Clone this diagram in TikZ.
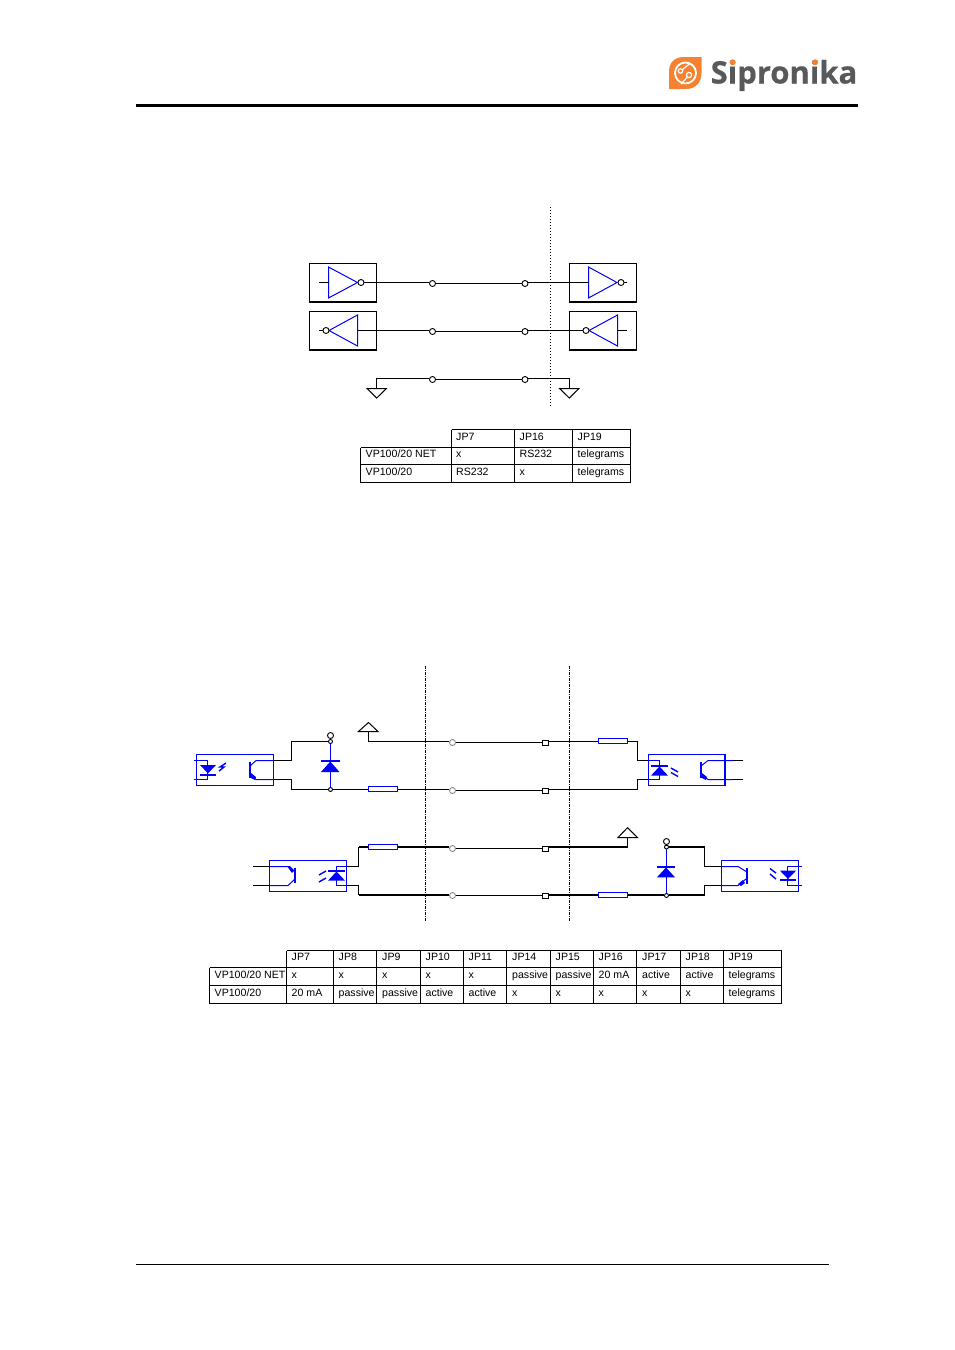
\documentclass[tikz,border=0pt]{standalone}
\usepackage{fontspec}
\setmainfont{Liberation Sans}
\newfontfamily\logofont[BoldFeatures={FakeBold=0.5}]{Open Sans}
\usepackage{tikz}
\definecolor{partblue}{HTML}{0000ff}
\definecolor{logoorange}{HTML}{f58232}
\definecolor{logogray}{HTML}{58595b}
\tikzset{
	wire/.style={line width=1pt},
	wirebold/.style={line width=2pt},
	part/.style={color=partblue,line width=1pt},
	bar/.style={color=partblue,line width=2pt},
	glint/.style={color=partblue,line width=1.4pt},
	bubble/.style={circle,draw,fill=white,inner sep=0pt,minimum size=6pt,line width=0.9pt},
	greybubble/.style={circle,draw=gray,fill=white,inner sep=0pt,minimum size=6pt,line width=0.8pt},
	pinbox/.style={rectangle,draw,fill=white,inner sep=0pt,minimum width=6pt,minimum height=5pt,line width=0.9pt},
	gatebox/.style={rectangle,draw,inner sep=0pt,minimum width=67pt,minimum height=38pt,line width=1pt},
	optobox/.style={rectangle,draw=partblue,inner sep=0pt,minimum width=77pt,minimum height=31pt,line width=1pt},
	resbox/.style={rectangle,draw=partblue,fill=white,inner sep=0pt,minimum width=29pt,minimum height=5pt,line width=1pt},
	tabline/.style={line width=0.9pt},
	celltext/.style={anchor=base west,inner sep=0pt,font=\fontsize{10.6pt}{12pt}\selectfont},
	cutline/.style={line width=1pt,dash pattern=on 3pt off 1pt on 1pt off 1pt},
}
\begin{document}
\begin{tikzpicture}[x=1pt,y=-1pt]
	\useasboundingbox (0,0) rectangle (954,1350);

	% header and footer
	\draw [line width=3pt] (136,105) -- (858,105);
	\draw [line width=1pt] (136,1264.5) -- (829,1264.5);
	\fill [logoorange] (669,89) -- (669,72) .. controls (669,62) and (675,57) .. (684,57) -- (701.5,57) -- (701.5,73) .. controls (701.5,83) and (695,89) .. (686,89) -- cycle;
	\draw [white,line width=1.8pt] (685.5,73) circle (10.5);
	\draw [white,line width=1.2pt] (680.5,71) circle (2.2);
	\draw [white,line width=1.2pt] (689,75) circle (2.6);
	\draw [white,line width=1.2pt] (690,63.5) -- (682.5,69.5) (687,77.5) -- (681,84);
	\node [anchor=base west,inner sep=0pt,text=logogray,font=\logofont\bfseries\fontsize{31pt}{32pt}\selectfont] (logo) at (710.5,83.5) {Sipronika};
	\fill [logoorange] (732.6,62.3) circle (3) (815.2,62.3) circle (3);

	% first diagram
	\draw [line width=1pt,dotted] (550.5,207) -- (550.5,406);
	\node [gatebox] (boxa) at (343,282.5) {};
	\node [gatebox] (boxb) at (343,330.5) {};
	\node [gatebox] (boxc) at (603,282.5) {};
	\node [gatebox] (boxd) at (603,330.5) {};
	\foreach \b in {boxa,boxb,boxc,boxd}
		\draw [line width=2pt] (\b.south west) -- (\b.south east);

	\draw [part] (328.5,267) -- (328.5,298) -- (357.5,282.5) -- cycle;
	\draw [part] (357.5,315) -- (357.5,346) -- (329,330.5) -- cycle;
	\draw [part] (588.5,267) -- (588.5,298) -- (617,282.5) -- cycle;
	\draw [part] (617.5,315) -- (617.5,346) -- (589,330.5) -- cycle;
	\draw [wire] (319,282.5) -- (328.5,282.5);
	\draw [wire] (319,330.5) -- (323,330.5);
	\draw [wire] (624,282.5) -- (627,282.5) (617.5,330.5) -- (627,330.5);

	\node [bubble] (gatea) at (361,282.5) {};
	\node [bubble] (gateb) at (326,330.5) {};
	\node [bubble] (gatec) at (621,282.5) {};
	\node [bubble] (gated) at (586,330.5) {};
	\coordinate (ina) at (588.5,282.5);
	\coordinate (outb) at (357.5,330.5);
	\node [bubble] (ja) at (432.5,283.5) {};
	\node [bubble] (jb) at (525,283.5) {};
	\node [bubble] (jc) at (432.5,331.5) {};
	\node [bubble] (jd) at (525,331.5) {};
	\node [bubble] (je) at (432.5,379.5) {};
	\node [bubble] (jf) at (525,379.5) {};
	\draw [wire] (gatea) -- (ja.west |- gatea) (ja) -- (jb) (jb.east |- gatea) -- (ina);
	\draw [wire] (outb) -- (jc.west |- outb) (jc) -- (jd) (jd.east |- outb) -- (gated);

	\coordinate (gnda) at (376.5,388.5);
	\coordinate (gndb) at (569.5,388.5);
	\coordinate (gndtop) at (376.5,378.5);
	\draw [wire] (gnda) -- (gndtop) -- (je.west |- gndtop) (je) -- (jf) (jf.east |- gndtop) -- (gndb |- gndtop) -- (gndb);
	\draw [wire] (367,388.5) -- (386.5,388.5) -- (376.7,398) -- cycle;
	\draw [wire] (559.5,388.5) -- (579,388.5) -- (569.3,398) -- cycle;

	% first table
	\draw [tabline] (451.5,429.5) -- (630.5,429.5);
	\draw [tabline] (360.5,447.5) -- (630.5,447.5) (360.5,464.5) -- (630.5,464.5) (360.5,482.5) -- (630.5,482.5);
	\draw [tabline] (360.5,447.5) -- (360.5,482.5);
	\foreach \x in {451.5,514.5,572.5,630.5}
		\draw [tabline] (\x,429.5) -- (\x,482.5);
	\foreach \x/\y/\t [count=\n] in {
		456/440.5/JP7,519.5/440.5/JP16,577.5/440.5/JP19,
		365.5/457.5/VP100\slash 20 NET,456/457.5/x,519.5/457.5/RS232,577.5/457.5/telegrams,
		365.5/475.5/VP100\slash 20,456/475.5/RS232,519.5/475.5/x,577.5/475.5/telegrams}
		\node [celltext] (taba\n) at (\x,\y) {\t};

	% second diagram
	\draw [cutline] (425.5,666) -- (425.5,922);
	\draw [cutline] (569.5,666) -- (569.5,922);

	% upper left optocoupler
	\node [optobox] (optoa) at (235,770) {};
	\draw [part] (194,760.5) -- (207.5,760.5) -- (207.5,779.5) -- (194,779.5);
	\fill [partblue] (200,765) -- (216,765) -- (208,773.5) -- cycle;
	\draw [bar] (200,775) -- (216,775);
	\draw [glint] (226,763) -- (220,767) -- (224,767) -- (219,771);
	\draw [bar] (250,761.5) -- (250,778);
	\draw [part] (250,766) -- (256,760.5) -- (273.5,760.5);
	\draw [part] (250,774) -- (256,779.5) -- (273.5,779.5);
	\fill [partblue] (251,773) -- (256,777) -- (255,780) -- (251,778) -- cycle;

	\coordinate (oal) at (273.5,760.5);
	\coordinate (oam) at (273.5,779.5);
	\node [bubble,minimum size=4pt] (da) at (330.5,741.5) {};
	\node [bubble,minimum size=4pt] (db) at (330.5,789.5) {};
	\node [bubble] (dc) at (330.5,735.5) {};
	\draw [wire] (oal) -- (291.5,760.5) -- (291.5,741.5) -- (da);
	\draw [wire] (oam) -- (291.5,779.5) -- (291.5,789.5) -- (db);
	\draw [wire] (da) -- (dc);
	\draw [part] (da) -- (db);
	\draw [bar] (321,761) -- (339.5,761);
	\fill [partblue] (321,772) -- (339.5,772) -- (330.3,761.5) -- cycle;
	\node [resbox] (ra) at (382.8,789) {};
	\node [resbox] (rb) at (613,741) {};
	\node [greybubble] (ka) at (452.5,742.5) {};
	\node [greybubble] (kb) at (452.5,790.5) {};
	\node [pinbox] (kc) at (545,742.5) {};
	\node [pinbox] (kd) at (545,790.5) {};

	\coordinate (gndc) at (368.5,731.5);
	\coordinate (gndctop) at (368.5,741.5);
	\draw [wire] (358.5,731.5) -- (378,731.5) -- (368.5,722.5) -- cycle;
	\draw [wire] (gndc) -- (gndctop) -- (ka.west |- gndctop) (ka) -- (kc) (kc.east |- gndctop) -- (rb.west |- gndctop);
	\draw [wire] (rb.east |- gndctop) -- (637.5,741.5) -- (637.5,760.5) -- (648.5,760.5);
	\draw [wire] (db) -- (ra.west |- db) (ra.east |- db) -- (kb.west |- db) (kb) -- (kd);
	\draw [wire] (kd.east |- db) -- (637.5,789.5) -- (637.5,779.5) -- (648.5,779.5);

	% upper right optocoupler
	\node [optobox] (optob) at (687,770) {};
	\draw [line width=2pt,partblue] (725,754.5) -- (725,785.5);
	\draw [part] (648.5,760.5) -- (659.5,760.5) -- (659.5,779.5) -- (648.5,779.5);
	\draw [bar] (651,765.6) -- (668,765.6);
	\fill [partblue] (651,775.6) -- (668,775.6) -- (659.5,766.5) -- cycle;
	\draw [glint] (671,768) -- (678,772) (671,772.5) -- (678,776.5);
	\draw [bar] (701,762) -- (701,778);
	\draw [part] (701,766) -- (708,760.5) -- (733,760.5);
	\draw [part] (701,774) -- (708,779.5) -- (733,779.5);
	\fill [partblue] (702,773) -- (707,777) -- (706,780) -- (702,778) -- cycle;
	\draw [wire] (733,760.5) -- (743,760.5) (733,779.5) -- (743,779.5);

	% lower left optocoupler
	\node [optobox] (optoc) at (308,876) {};
	\draw [wire] (253,866.5) -- (269.5,866.5) (253,885.5) -- (269.5,885.5);
	\draw [part] (269.5,866.5) -- (288,866.5) -- (295,872);
	\draw [part] (269.5,885.5) -- (288,885.5) -- (295,879);
	\draw [bar] (295,868) -- (295,883);
	\fill [partblue] (287,866) -- (290,866) -- (294,870) -- (292,873) -- cycle;
	\draw [glint] (326,871) -- (319,875) (326,878) -- (319,882);
	\draw [bar] (328,870.6) -- (345,870.6);
	\fill [partblue] (328,880.6) -- (345,880.6) -- (336.5,871.5) -- cycle;
	\draw [part] (346.5,866.5) -- (336.5,866.5) -- (336.5,885.5) -- (346.5,885.5);

	\node [resbox] (rc) at (382.8,847) {};
	\node [resbox] (rd) at (613,895) {};
	\node [greybubble] (ma) at (452.5,848.5) {};
	\node [greybubble] (mb) at (452.5,895.5) {};
	\node [pinbox] (mc) at (545,848.5) {};
	\node [pinbox] (md) at (545,895.5) {};
	\node [bubble,minimum size=4pt] (ea) at (666.5,847) {};
	\node [bubble,minimum size=4pt] (eb) at (666.5,895.5) {};
	\node [bubble] (ec) at (666.5,841.5) {};
	\coordinate (gndd) at (627.5,837.5);
	\coordinate (corc) at (358.5,847);
	\coordinate (cord) at (358.5,895);
	\coordinate (core) at (704.5,847);
	\coordinate (corf) at (704.5,895);
	\draw [wire] (346.5,866.5) -- (358.5,866.5) -- (corc);
	\draw [wirebold] (corc) -- (rc);
	\draw [wirebold] (rc) -- (ma.west |- rc);
	\draw [wire] (ma) -- (mc);
	\draw [wirebold] (mc.east |- rc) -- (gndd |- rc);
	\draw [wire] (gndd |- rc) -- (gndd);
	\draw [wire] (618,837.5) -- (637.5,837.5) -- (627.5,827.7) -- cycle;
	\draw [wire] (346.5,885.5) -- (358.5,885.5) -- (cord);
	\draw [wirebold] (cord) -- (mb.west |- rd);
	\draw [wire] (mb) -- (md);
	\draw [wirebold] (md.east |- rd) -- (rd);
	\draw [wirebold] (rd) -- (eb.west |- rd);
	\draw [wirebold] (eb.east |- rd) -- (corf);
	\draw [wire] (corf) -- (704.5,885.5) -- (721.5,885.5);
	\draw [wirebold] (ea) -- (core);
	\draw [wire] (core) -- (704.5,866.5) -- (721.5,866.5);
	\draw [wire] (ea) -- (ec);
	\draw [part] (ea) -- (eb);
	\draw [bar] (657,867) -- (675,867);
	\fill [partblue] (657,877.3) -- (675,877.3) -- (666,867.5) -- cycle;

	% lower right optocoupler
	\node [optobox] (optod) at (760,876) {};
	\draw [part] (721.5,866.5) -- (738,866.5) -- (747,872);
	\draw [part] (721.5,885.5) -- (738,885.5) -- (746,879);
	\draw [bar] (747,868) -- (747,884);
	\fill [partblue] (738,884) -- (743,880) -- (745,883) -- (741,886) -- cycle;
	\draw [glint] (770,868.5) -- (776,873) (770,874) -- (776,879);
	\fill [partblue] (780,870.7) -- (796,870.7) -- (788,879) -- cycle;
	\draw [bar] (780,880) -- (796,880);
	\draw [part] (802,866.5) -- (787.5,866.5) -- (787.5,885.5) -- (802,885.5);

	% second table
	\draw [tabline] (286.5,950.5) -- (781.5,950.5);
	\draw [tabline] (209.5,967.5) -- (781.5,967.5) (209.5,985.5) -- (781.5,985.5) (209.5,1003.5) -- (781.5,1003.5);
	\draw [tabline] (209.5,967.5) -- (209.5,1003.5);
	\foreach \x in {286.5,333.5,376.5,420.5,463.5,506.5,550.5,593.5,636.5,680.5,723.5,781.5}
		\draw [tabline] (\x,950.5) -- (\x,1003.5);
	\foreach \x/\y/\t [count=\n] in {
		291.5/960.5/JP7,338.5/960.5/JP8,382/960.5/JP9,425.5/960.5/JP10,468.5/960.5/JP11,512/960.5/JP14,555.5/960.5/JP15,598.5/960.5/JP16,642/960.5/JP17,685.5/960.5/JP18,728.5/960.5/JP19,
		214.5/978.5/VP100\slash 20 NET,291.5/978.5/x,338.5/978.5/x,382/978.5/x,425.5/978.5/x,468.5/978.5/x,512/978.5/passive,555.5/978.5/passive,598.5/978.5/20 mA,642/978.5/active,685.5/978.5/active,728.5/978.5/telegrams,
		214.5/996.5/VP100\slash 20,291.5/996.5/20 mA,338.5/996.5/passive,382/996.5/passive,425.5/996.5/active,468.5/996.5/active,512/996.5/x,555.5/996.5/x,598.5/996.5/x,642/996.5/x,685.5/996.5/x,728.5/996.5/telegrams}
		\node [celltext] (tabb\n) at (\x,\y) {\t};
\end{tikzpicture}
\end{document}
